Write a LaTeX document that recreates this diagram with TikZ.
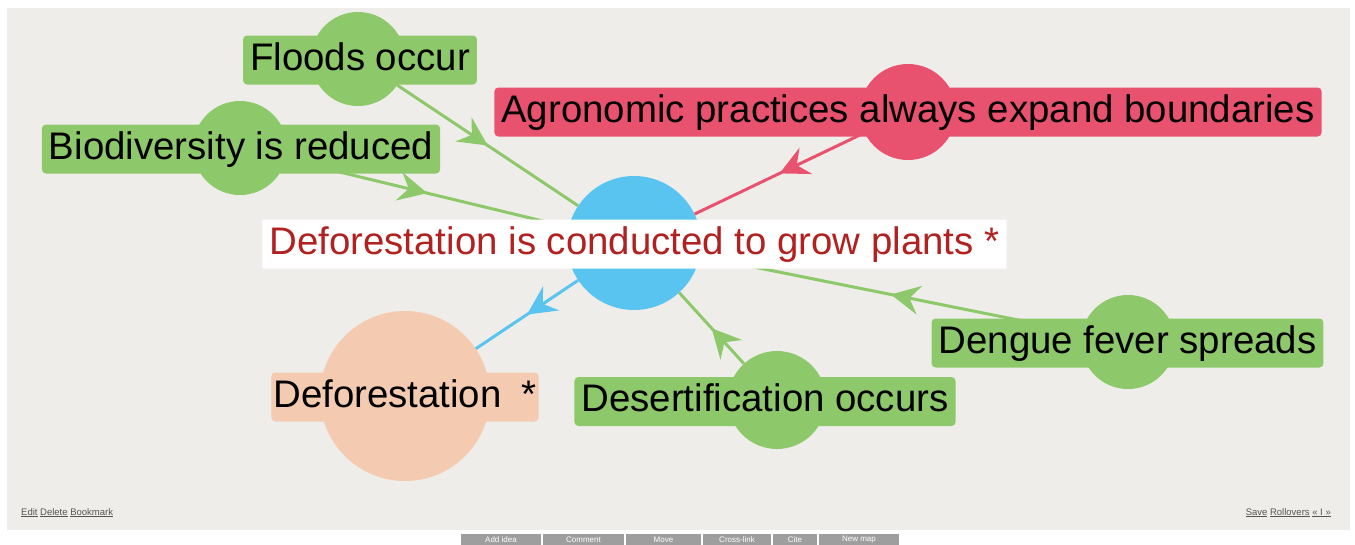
\documentclass[tikz,border=0pt]{standalone}
\usepackage{fontspec}
\setmainfont{Liberation Sans}
\usetikzlibrary{arrows.meta,decorations.markings}
\definecolor{bgpanel}{RGB}{239,237,234}
\definecolor{ngreen}{RGB}{141,201,106}
\definecolor{nred}{RGB}{233,82,111}
\definecolor{nblue}{RGB}{90,196,240}
\definecolor{npeach}{RGB}{244,202,176}
\definecolor{ctext}{RGB}{178,32,32}
\definecolor{linkgray}{RGB}{85,85,85}
\definecolor{btngray}{RGB}{158,158,158}
\begin{document}
\begin{tikzpicture}[x=1pt,y=-1pt,
  bubble/.style={circle,inner sep=0pt,minimum size=#1},
  lbl/.style={rounded corners=4pt,inner xsep=7pt,inner ysep=0pt,minimum height=49pt,
    text height=28pt,text depth=8pt,font=\fontsize{38.4}{46}\selectfont,text=black},
  conn/.style={line width=3pt,postaction={decorate},
    decoration={markings,mark=at position 0.5 with {\arrow{Stealth[length=29pt,width=29pt,inset=10pt]}}}},
  linktext/.style={inner sep=0pt,font=\fontsize{9.5}{11}\selectfont,text=linkgray},
  btnbox/.style={fill=btngray,text=white,inner sep=0pt,minimum height=13pt,font=\fontsize{8}{9}\selectfont}
]
\useasboundingbox (0,0) rectangle (1355,544);
\clip (0,0) rectangle (1355,544);
\fill[white] (0,0) rectangle (1355,544);
\fill[bgpanel] (7,8) rectangle (1350,530);

% circles
\node[bubble=94pt,fill=ngreen] (cF) at (358,59) {};
\node[bubble=94pt,fill=ngreen] (cB) at (240,148) {};
\node[bubble=96pt,fill=nred] (cA) at (908,112) {};
\node[bubble=134pt,fill=nblue] (cC) at (634,243) {};
\node[bubble=94pt,fill=ngreen] (cDg) at (1128,342) {};
\node[bubble=98pt,fill=ngreen] (cDs) at (777,400) {};
\node[bubble=170pt,fill=npeach] (cDf) at (405,396) {};

% connectors
\draw[conn,ngreen] (cF) -- (cC);
\draw[conn,ngreen] (cB) -- (cC);
\draw[conn,nred] (cA) -- (cC);
\draw[conn,nblue] (cC) -- (cDf);
\draw[conn,ngreen] (cDs) -- (cC);
\draw[conn,ngreen] (cDg) -- (cC);

% labels
\node[lbl,fill=ngreen] (tF) at (360,60) {Floods occur};
\node[lbl,fill=ngreen] (tB) at (241,149) {Biodiversity is reduced};
\node[lbl,fill=nred] (tA) at (908,112) {Agronomic practices always expand boundaries};
\node[lbl,fill=white,text=ctext,rounded corners=1pt] (tC) at (634.5,244) {Deforestation is conducted to grow plants *};
\node[lbl,fill=ngreen] (tDg) at (1127.5,343) {Dengue fever spreads};
\node[lbl,fill=ngreen] (tDs) at (765,401.5) {Desertification occurs};
\node[lbl,fill=npeach,inner xsep=2pt] (tDf) at (405,397) {Deforestation\hspace{20pt}*};

% footer links
\node[linktext,anchor=base west] (ed) at (21,515) {\underline{Edit} \underline{Delete} \underline{Bookmark}};
\node[linktext,anchor=base east] (sv) at (1331,515) {\underline{Save} \underline{Rollovers} \underline{« I »}};

% buttons
\node[btnbox,minimum width=80pt] (b1) at (501,540) {Add idea};
\node[btnbox,minimum width=81pt] (b2) at (583.5,540) {Comment};
\node[btnbox,minimum width=75pt] (b3) at (663.5,540) {Move};
\node[btnbox,minimum width=68pt] (b4) at (737,540) {Cross-link};
\node[btnbox,minimum width=44pt] (b5) at (795,540) {Cite};
\node[btnbox,minimum width=80pt] (b6) at (859,540) {New map};
\end{tikzpicture}
\end{document}
